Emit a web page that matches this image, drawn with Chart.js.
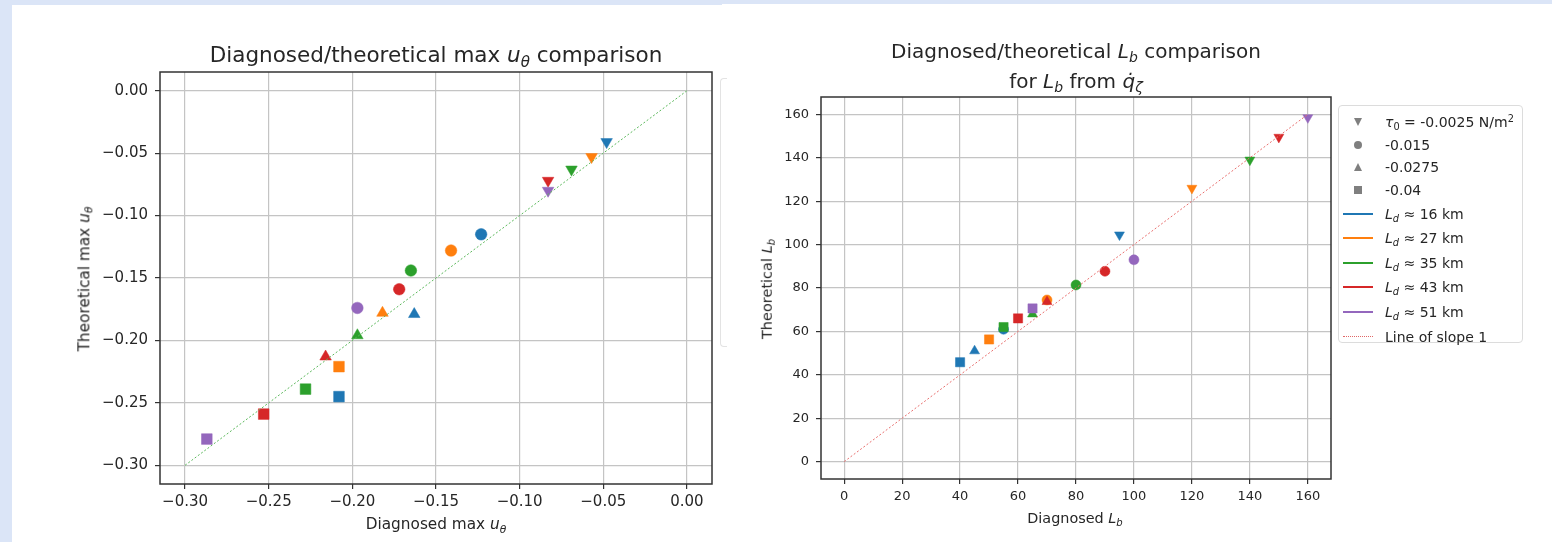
<!DOCTYPE html>
<html>
<head>
<meta charset="utf-8">
<script src="https://cdn.jsdelivr.net/npm/chart.js@4.4.1/dist/chart.umd.min.js"></script>
<style>
  html, body { margin: 0; padding: 0; }
  body { width: 1552px; height: 542px; background: #dbe5f7; position: relative; overflow: hidden;
         font-family: 'DejaVu Sans', sans-serif; color: #262626; }
  .panel { position: absolute; background: #fff; }
  canvas { position: absolute; }
  .txt { position: absolute; white-space: nowrap; transform: translate(-50%, -50%); line-height: 1; }
  .rot { transform: translate(-50%, -50%) rotate(-90deg); }
  sub { font-size: 70%; vertical-align: -0.3em; line-height: 0; }
  sup { font-size: 70%; vertical-align: 0.55em; line-height: 0; }
  #ghost { position: absolute; left: 720px; top: 78px; width: 6px; height: 267px;
           border: 1px solid #e3e3e3; border-right: none; border-radius: 4px 0 0 4px; }
  #legend { position: absolute; left: 1338px; top: 105px; width: 185px; height: 238px;
            border: 1px solid #dcdcdc; border-radius: 4px; background: #fff; box-sizing: border-box; }
  #legend .rows { position: absolute; left: 4px; top: 4.6px; }
  #legend .row { display: flex; align-items: center; font-size: 14px; white-space: nowrap; }
  #legend .row.m { height: 22.7px; }
  #legend .row.l { height: 24.6px; }
  #legend .h { width: 30px; margin-right: 12px; display: flex; justify-content: center; align-items: center; }
  .mk-v { width: 0; height: 0; border-left: 4.5px solid transparent; border-right: 4.5px solid transparent; border-top: 8px solid #7f7f7f; }
  .mk-o { width: 8px; height: 8px; border-radius: 50%; background: #7f7f7f; }
  .mk-t { width: 0; height: 0; border-left: 4.5px solid transparent; border-right: 4.5px solid transparent; border-bottom: 8px solid #7f7f7f; }
  .mk-s { width: 7.5px; height: 7.5px; background: #7f7f7f; }
  .ln { width: 30px; height: 0; border-top: 2px solid; }
  .ln-dot { width: 30px; height: 0; border-top: 1px dotted #e06666; }
</style>
</head>
<body>
<div class="panel" style="left:12px;top:5px;width:710px;height:537px"></div>
<div class="panel" style="left:722px;top:4px;width:830px;height:538px"></div>
<div id="ghost"></div>

<canvas id="chartU" width="710" height="537" style="left:12px;top:5px"></canvas>
<canvas id="chartLb" width="830" height="538" style="left:722px;top:4px"></canvas>

<div class="txt" style="left:436px;top:55px;font-size:21.5px">Diagnosed/theoretical max <i>u<sub>θ</sub></i> comparison</div>
<div class="txt" style="left:436px;top:525px;font-size:15.3px">Diagnosed max <i>u<sub>θ</sub></i></div>
<div class="txt rot" style="left:85px;top:279px;font-size:15.3px">Theoretical max <i>u<sub>θ</sub></i></div>

<div class="txt" style="left:1076px;top:51px;font-size:20px">Diagnosed/theoretical <i>L<sub>b</sub></i> comparison</div>
<div class="txt" style="left:1076px;top:81px;font-size:20px">for <i>L<sub>b</sub></i> from <i>q̇<sub>ζ</sub></i></div>
<div class="txt" style="left:1075px;top:518px;font-size:14.4px">Diagnosed <i>L<sub>b</sub></i></div>
<div class="txt rot" style="left:767px;top:289px;font-size:14.5px">Theoretical <i>L<sub>b</sub></i></div>

<div id="legend"><div class="rows" id="legendRows"></div></div>

<script>
// Rossby deformation radius of each run (colour) and wind stress (marker)
const ldKm = [16, 27, 35, 43, 51];
const ldColors = ['#1f77b4', '#ff7f0e', '#2ca02c', '#d62728', '#9467bd'];
const tauLabels = ['-0.0025', '-0.015', '-0.0275', '-0.04'];
const tauMarkers = ['v', 'o', '^', 's'];

// rows = L_d, columns = tau_0 (null = no point)
const uDiagnosed = [
  [-0.048, -0.123, -0.163, -0.208],
  [-0.057, -0.141, -0.182, -0.208],
  [-0.069, -0.165, -0.197, -0.228],
  [-0.083, -0.172, -0.216, -0.253],
  [-0.083, -0.197, null, -0.287]
];
const uTheoretical = [
  [-0.041, -0.115, -0.179, -0.245],
  [-0.053, -0.128, -0.178, -0.221],
  [-0.063, -0.144, -0.196, -0.239],
  [-0.072, -0.159, -0.213, -0.259],
  [-0.080, -0.174, null, -0.279]
];
const lbDiagnosed = [
  [95, 55, 45, 40],
  [120, 70, null, 50],
  [140, 80, 65, 55],
  [150, 90, 70, 60],
  [160, 100, null, 65]
];
const lbTheoretical = [
  [104.5, 61, 51, 45.8],
  [126, 74.5, null, 56.3],
  [139, 81.4, 68, 62],
  [149.5, 87.7, 73.7, 66],
  [158.5, 93, null, 70.6]
];
const slopeU = [-0.3, 0];
const slopeLb = [0, 160];
const uTicks = [-0.30, -0.25, -0.20, -0.15, -0.10, -0.05, 0.00];
const lbTicks = [0, 20, 40, 60, 80, 100, 120, 140, 160];

Chart.defaults.font.family = 'DejaVu Sans';

const frame = {
  id: 'frame',
  afterDatasetsDraw(chart) {
    const a = chart.chartArea, ctx = chart.ctx;
    ctx.save();
    ctx.strokeStyle = '#333';
    ctx.lineWidth = 1.5;
    ctx.strokeRect(a.left, a.top, a.right - a.left, a.bottom - a.top);
    ctx.restore();
  }
};

function buildSets(xs, ys, r) {
  const sets = [];
  ldKm.forEach((ld, i) => {
    const pts = [], styles = [], rots = [], radii = [];
    tauMarkers.forEach((m, j) => {
      if (xs[i][j] == null) return;
      pts.push({x: xs[i][j], y: ys[i][j]});
      styles.push(m == 'o' ? 'circle' : m == 's' ? 'rect' : 'triangle');
      rots.push(m == 'v' ? 180 : 0);
      radii.push(m == 'o' ? r : m == 's' ? r * 1.3 : r * 1.15);
    });
    sets.push({
      label: 'Ld ' + ld + ' km',
      data: pts,
      pointStyle: styles,
      pointRotation: rots,
      pointRadius: radii,
      pointBackgroundColor: ldColors[i],
      pointBorderColor: ldColors[i],
      pointBorderWidth: 0.5,
      showLine: false,
      order: -i
    });
  });
  return sets;
}

function slopeSet(vals, color) {
  return {
    label: 'Line of slope 1',
    data: vals.map(v => ({x: v, y: v})),
    showLine: true,
    borderColor: color,
    borderWidth: 1,
    borderDash: [2, 2],
    pointRadius: 0,
    order: -10
  };
}

function axis(min, max, ticks, fmt, size, pad, fit, horizontal) {
  return {
    type: 'linear', min: min, max: max,
    afterBuildTicks: s => { s.ticks = ticks.map(v => ({value: v})); },
    afterFit: s => { if (horizontal) s.height = fit; else s.width = fit; },
    grid: { color: '#c4c4c4', lineWidth: 1.2, tickColor: '#333', tickLength: 5 },
    border: { display: false },
    ticks: { font: { size: size }, color: '#262626', padding: pad, maxRotation: 0, autoSkip: false, callback: fmt }
  };
}

const fmtU = v => Math.abs(v) < 1e-9 ? '0.00' : v.toFixed(2).replace('-', '\u2212');
const fmtLb = v => String(v);

new Chart(document.getElementById('chartU'), {
  type: 'scatter',
  data: { datasets: buildSets(uDiagnosed, uTheoretical, 5.8).concat([slopeSet(slopeU, '#5cb85c')]) },
  options: {
    responsive: false, devicePixelRatio: 1, animation: false, events: [],
    layout: { padding: { top: 67, right: 10, left: 0, bottom: 0 } },
    plugins: { legend: { display: false }, tooltip: { enabled: false } },
    scales: {
      x: axis(-0.315, 0.015, uTicks, fmtU, 15, 4, 58, true),
      y: axis(-0.315, 0.015, uTicks, fmtU, 15, 7, 148, false)
    }
  },
  plugins: [frame]
});

new Chart(document.getElementById('chartLb'), {
  type: 'scatter',
  data: { datasets: buildSets(lbDiagnosed, lbTheoretical, 5).concat([slopeSet(slopeLb, '#e8706f')]) },
  options: {
    responsive: false, devicePixelRatio: 1, animation: false, events: [],
    layout: { padding: { top: 93, right: 221, left: 0, bottom: 0 } },
    plugins: { legend: { display: false }, tooltip: { enabled: false } },
    scales: {
      x: axis(-8, 168, lbTicks, fmtLb, 13, 5, 63, true),
      y: axis(-8, 168, lbTicks, fmtLb, 13, 7, 99, false)
    }
  },
  plugins: [frame]
});

// legend of the right chart
const rows = document.getElementById('legendRows');
const mkClass = { v: 'mk-v', o: 'mk-o', '^': 'mk-t', s: 'mk-s' };
tauMarkers.forEach((m, j) => {
  const text = j == 0 ? '<i>τ</i><sub>0</sub> = ' + tauLabels[j] + ' N/m<sup>2</sup>' : tauLabels[j];
  rows.insertAdjacentHTML('beforeend',
    '<div class="row m"><div class="h"><div class="' + mkClass[m] + '"></div></div><span>' + text + '</span></div>');
});
ldKm.forEach((ld, i) => {
  rows.insertAdjacentHTML('beforeend',
    '<div class="row l"><div class="h"><div class="ln" style="border-color:' + ldColors[i] + '"></div></div><span><i>L<sub>d</sub></i> ≈ ' + ld + ' km</span></div>');
});
rows.insertAdjacentHTML('beforeend',
  '<div class="row l"><div class="h"><div class="ln-dot"></div></div><span>Line of slope 1</span></div>');
</script>
</body>
</html>
